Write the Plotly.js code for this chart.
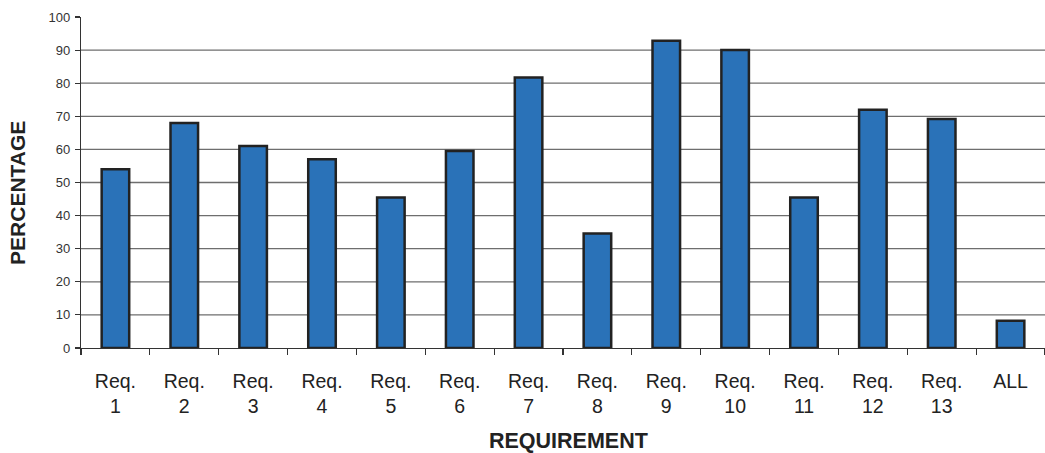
<!DOCTYPE html>
<html>
<head>
<meta charset="utf-8">
<script src="https://cdn.plot.ly/plotly-3.0.1.min.js"></script>
<style>
  html, body { margin: 0; padding: 0; background: #fff; }
  #chart { width: 1045px; height: 453px; }
</style>
</head>
<body>
<div id="chart"></div>
<script>
// Share of cases meeting each requirement (percent)
const categories = ["Req.<br>1", "Req.<br>2", "Req.<br>3", "Req.<br>4", "Req.<br>5", "Req.<br>6", "Req.<br>7",
                    "Req.<br>8", "Req.<br>9", "Req.<br>10", "Req.<br>11", "Req.<br>12", "Req.<br>13", "ALL"];
const percentages = [54, 68, 61, 57, 45.5, 59.5, 81.7, 34.6, 92.8, 90, 45.5, 72, 69.2, 8.2];
const yTicks = [0, 10, 20, 30, 40, 50, 60, 70, 80, 90, 100];
const gridLevels = [10, 20, 30, 40, 50, 60, 70, 80, 90];
const xTitle = "REQUIREMENT";
const yTitle = "PERCENTAGE";

const trace = {
  type: "bar",
  x: categories,
  y: percentages,
  width: 0.4,
  marker: { color: "#2a72b8", line: { color: "#222222", width: 2.5 } },
  hoverinfo: "x+y"
};

// horizontal grid lines (no line at the top of the range)
const gridShapes = gridLevels.map(v => ({
  type: "line", layer: "below",
  xref: "paper", x0: 0, x1: 1,
  yref: "y", y0: v, y1: v,
  line: { color: "#6e6e6e", width: 1.3 }
}));

const layout = {
  width: 1045, height: 453,
  margin: { l: 81, r: 0, t: 17, b: 105 },
  paper_bgcolor: "#ffffff",
  plot_bgcolor: "#ffffff",
  font: { family: "Liberation Sans, Arial, sans-serif", color: "#222222" },
  showlegend: false,
  shapes: gridShapes,
  annotations: [
    { text: "<b>" + xTitle + "</b>", xref: "paper", yref: "paper", x: 0.5062, y: -0.2795,
      xanchor: "center", yanchor: "middle", showarrow: false,
      font: { size: 21.5, color: "#222222" } },
    { text: "<b>" + yTitle + "</b>", xref: "paper", yref: "paper", x: -0.0659, y: 0.4698,
      xanchor: "center", yanchor: "middle", textangle: -90, showarrow: false,
      font: { size: 21, color: "#222222" } }
  ],
  xaxis: {
    type: "category",
    tickson: "boundaries",
    ticks: "outside", ticklen: 6, tickwidth: 1.2, tickcolor: "#333333",
    showline: true, linecolor: "#333333", linewidth: 1.2,
    showgrid: false,
    ticklabelstandoff: 15,
    tickfont: { size: 19.5, color: "#222222" },
    automargin: false
  },
  yaxis: {
    range: [0, 100],
    tickvals: yTicks,
    ticks: "outside", ticklen: 5, tickwidth: 1.2, tickcolor: "#333333",
    showline: true, linecolor: "#333333", linewidth: 1.2,
    showgrid: false, zeroline: false,
    ticklabelstandoff: 2,
    tickfont: { size: 13, color: "#333333" },
    automargin: false
  },
  bargap: 0.6
};

Plotly.newPlot("chart", [trace], layout, { displayModeBar: false, staticPlot: true });
</script>
</body>
</html>
